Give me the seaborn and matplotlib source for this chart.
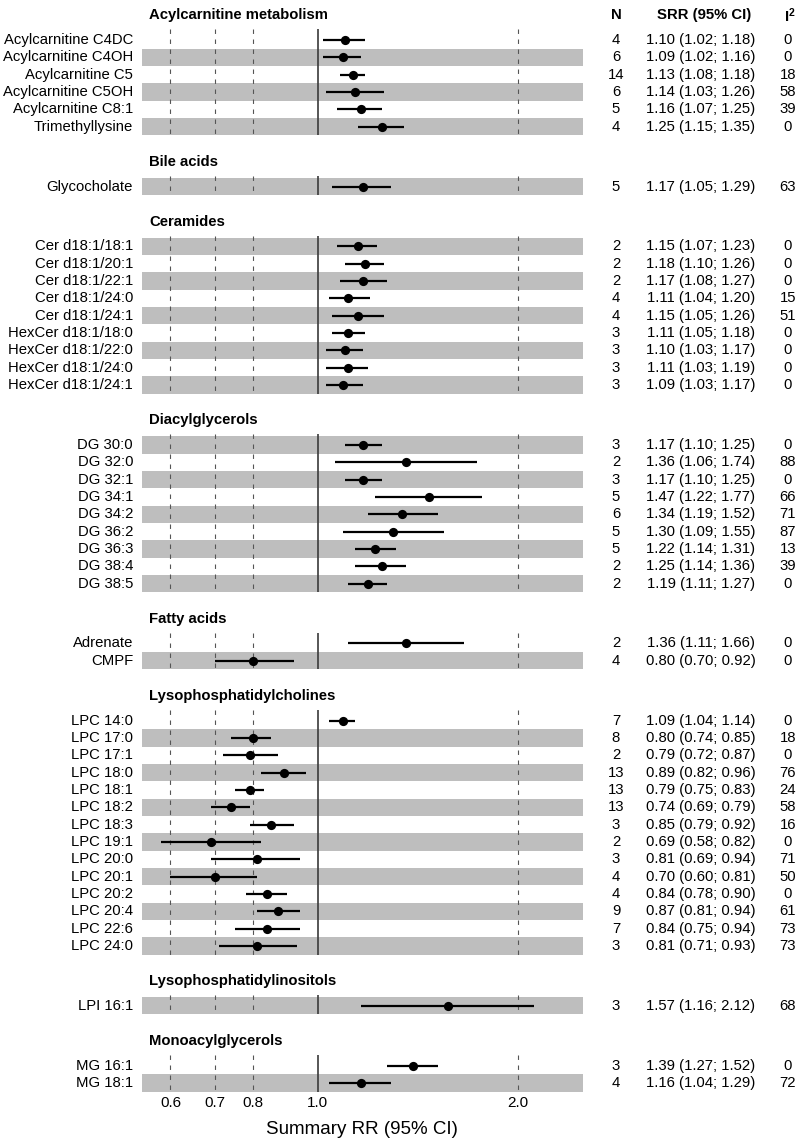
# Forest plot: metabolites and summary RR (95% CI)

import numpy as np
import pandas as pd
import matplotlib
matplotlib.use('Agg')
import matplotlib.pyplot as plt
import matplotlib.transforms as mtransforms
from matplotlib.ticker import NullLocator
import seaborn as sns

# Data
groups = ['Acylcarnitine metabolism', 'Bile acids', 'Ceramides', 'Diacylglycerols',
          'Fatty acids', 'Lysophosphatidylcholines', 'Lysophosphatidylinositols',
          'Monoacylglycerols']
group_sizes = [6, 1, 9, 9, 2, 14, 1, 2]

labels = ['Acylcarnitine C4DC', 'Acylcarnitine C4OH', 'Acylcarnitine C5', 'Acylcarnitine C5OH',
          'Acylcarnitine C8:1', 'Trimethyllysine',
          'Glycocholate',
          'Cer d18:1/18:1', 'Cer d18:1/20:1', 'Cer d18:1/22:1', 'Cer d18:1/24:0', 'Cer d18:1/24:1',
          'HexCer d18:1/18:0', 'HexCer d18:1/22:0', 'HexCer d18:1/24:0', 'HexCer d18:1/24:1',
          'DG 30:0', 'DG 32:0', 'DG 32:1', 'DG 34:1', 'DG 34:2', 'DG 36:2', 'DG 36:3',
          'DG 38:4', 'DG 38:5',
          'Adrenate', 'CMPF',
          'LPC 14:0', 'LPC 17:0', 'LPC 17:1', 'LPC 18:0', 'LPC 18:1', 'LPC 18:2', 'LPC 18:3',
          'LPC 19:1', 'LPC 20:0', 'LPC 20:1', 'LPC 20:2', 'LPC 20:4', 'LPC 22:6', 'LPC 24:0',
          'LPI 16:1',
          'MG 16:1', 'MG 18:1']
n_studies = [4, 6, 14, 6, 5, 4,
             5,
             2, 2, 2, 4, 4, 3, 3, 3, 3,
             3, 2, 3, 5, 6, 5, 5, 2, 2,
             2, 4,
             7, 8, 2, 13, 13, 13, 3, 2, 3, 4, 4, 9, 7, 3,
             3,
             3, 4]
srr = [1.10, 1.09, 1.13, 1.14, 1.16, 1.25,
       1.17,
       1.15, 1.18, 1.17, 1.11, 1.15, 1.11, 1.10, 1.11, 1.09,
       1.17, 1.36, 1.17, 1.47, 1.34, 1.30, 1.22, 1.25, 1.19,
       1.36, 0.80,
       1.09, 0.80, 0.79, 0.89, 0.79, 0.74, 0.85, 0.69, 0.81, 0.70, 0.84, 0.87, 0.84, 0.81,
       1.57,
       1.39, 1.16]
ci_low = [1.02, 1.02, 1.08, 1.03, 1.07, 1.15,
          1.05,
          1.07, 1.10, 1.08, 1.04, 1.05, 1.05, 1.03, 1.03, 1.03,
          1.10, 1.06, 1.10, 1.22, 1.19, 1.09, 1.14, 1.14, 1.11,
          1.11, 0.70,
          1.04, 0.74, 0.72, 0.82, 0.75, 0.69, 0.79, 0.58, 0.69, 0.60, 0.78, 0.81, 0.75, 0.71,
          1.16,
          1.27, 1.04]
ci_high = [1.18, 1.16, 1.18, 1.26, 1.25, 1.35,
           1.29,
           1.23, 1.26, 1.27, 1.20, 1.26, 1.18, 1.17, 1.19, 1.17,
           1.25, 1.74, 1.25, 1.77, 1.52, 1.55, 1.31, 1.36, 1.27,
           1.66, 0.92,
           1.14, 0.85, 0.87, 0.96, 0.83, 0.79, 0.92, 0.82, 0.94, 0.81, 0.90, 0.94, 0.94, 0.93,
           2.12,
           1.52, 1.29]
i2 = [0, 0, 18, 58, 39, 0,
      63,
      0, 0, 0, 15, 51, 0, 0, 0, 0,
      0, 88, 0, 66, 71, 87, 13, 39, 0,
      0, 0,
      0, 18, 0, 76, 24, 58, 16, 0, 71, 50, 0, 61, 73, 73,
      68,
      0, 72]

xticks = [0.6, 0.7, 0.8, 1.0, 2.0]
xtick_labels = ['0.6', '0.7', '0.8', '1.0', '2.0']

# Build table with row positions (groups separated by header + gap)
gap = 2.46
rows = []
header_y = []
cur = 0.0
for gi, size in enumerate(group_sizes):
    if gi > 0:
        cur += gap
    header_y.append(cur - 1.42)
    for k in range(size):
        rows.append((groups[gi], cur, (size - 1 - k) % 2 == 0))
        cur += 1
data = pd.DataFrame({'label': labels, 'n': n_studies, 'srr': srr,
                     'lo': ci_low, 'hi': ci_high, 'i2': i2})
data['group'] = [r[0] for r in rows]
data['y'] = [r[1] for r in rows]
data['shade'] = [r[2] for r in rows]

# Figure
sns.set_style('white')
plt.rcParams['font.family'] = ['Liberation Sans', 'DejaVu Sans']
plt.rcParams['text.color'] = 'black'
plt.rcParams['xtick.color'] = 'black'
plt.rcParams['axes.labelcolor'] = 'black'
plt.rcParams['mathtext.fontset'] = 'custom'
plt.rcParams['mathtext.bf'] = 'Liberation Sans:bold'
fs = 10.7

W, H = 800, 1141
fig = plt.figure(figsize=(W / 100, H / 100), dpi=100)
left_px, right_px, top_px, bottom_px = 141.7, 583, 0, 1091.7
ax = fig.add_axes([left_px / W, 1 - bottom_px / H,
                   (right_px - left_px) / W, (bottom_px - top_px) / H])

ymax = data['y'].max() + 0.5
ax.set_ylim(ymax, ymax - (bottom_px - top_px) / 17.32)
ax.set_xscale('log')
ax.set_xlim(0.543, 2.51)

# Shaded bands
for _, r in data[data['shade']].iterrows():
    ax.axhspan(r['y'] - 0.5, r['y'] + 0.5, color='#BEBEBE', lw=0, zorder=0)

# Reference lines per group
for g in groups:
    sub = data[data['group'] == g]
    y0, y1 = sub['y'].min() - 0.62, sub['y'].max() + 0.5
    for xv in [0.6, 0.7, 0.8, 2.0]:
        ax.vlines(xv, y0, y1, colors='#555555', lw=0.8, linestyles=(0, (4, 5)), zorder=1)
    ax.vlines(1.0, y0, y1, colors='#3a3a3a', lw=1.2, zorder=1)

# CI lines and points
ax.hlines(data['y'], data['lo'], data['hi'], colors='black', lw=1.6, zorder=2)
sns.scatterplot(data=data, x='srr', y='y', color='black', s=44, edgecolor='black',
                linewidth=0, zorder=3, ax=ax, legend=False)

# Axis styling
ax.set_xticks(xticks)
ax.set_xticklabels(xtick_labels, fontsize=11)
ax.xaxis.set_minor_locator(NullLocator())
ax.tick_params(axis='x', length=0, pad=3)
ax.set_yticks([])
ax.set_xlabel('Summary RR (95% CI)', fontsize=13.5, labelpad=8)
ax.set_ylabel('')
for s in ax.spines.values():
    s.set_visible(False)

# Text columns
tr = mtransforms.blended_transform_factory(fig.transFigure, ax.transData)
for _, r in data.iterrows():
    ax.text(133 / W, r['y'], r['label'], transform=tr, ha='right', va='center', fontsize=fs)
    ax.text(616 / W, r['y'], str(r['n']), transform=tr, ha='center', va='center', fontsize=fs)
    ax.text(701 / W, r['y'], '%.2f (%.2f; %.2f)' % (r['srr'], r['lo'], r['hi']),
            transform=tr, ha='center', va='center', fontsize=fs)
    ax.text(788 / W, r['y'], str(r['i2']), transform=tr, ha='center', va='center', fontsize=fs)

for g, hy in zip(groups, header_y):
    ax.text(149 / W, hy, g, transform=tr, ha='left', va='center', fontsize=fs, fontweight='bold')

hy = header_y[0]
ax.text(616 / W, hy, 'N', transform=tr, ha='center', va='center', fontsize=fs, fontweight='bold')
ax.text(704 / W, hy, 'SRR (95% CI)', transform=tr, ha='center', va='center', fontsize=fs,
        fontweight='bold')
ax.text(790 / W, hy, r'$\mathbf{I^{2}}$', transform=tr, ha='center', va='center', fontsize=fs)

plt.savefig('out.png', dpi=100)
